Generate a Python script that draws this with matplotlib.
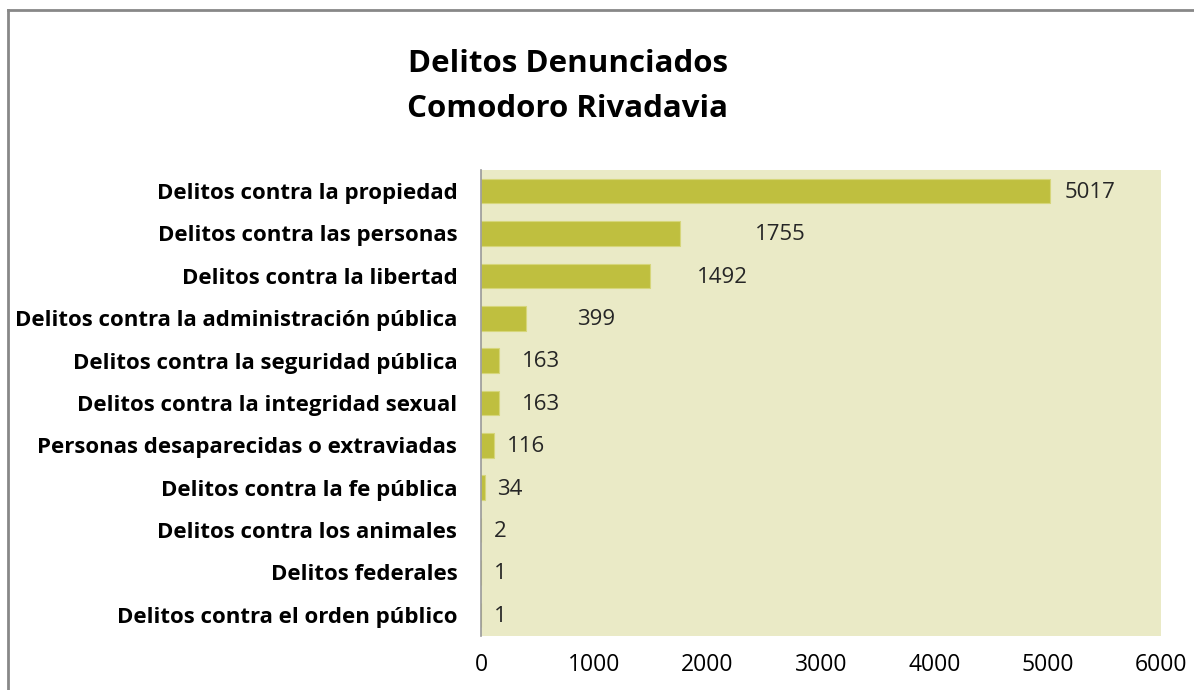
import matplotlib.pyplot as plt
from matplotlib.lines import Line2D

plt.rcParams['font.family'] = ['Open Sans', 'DejaVu Sans']

# categories (top to bottom) and counts
categorias = ['Delitos contra la propiedad',
              'Delitos contra las personas',
              'Delitos contra la libertad',
              'Delitos contra la administración pública',
              'Delitos contra la seguridad pública',
              'Delitos contra la integridad sexual',
              'Personas desaparecidas o extraviadas',
              'Delitos contra la fe pública',
              'Delitos contra los animales',
              'Delitos federales',
              'Delitos contra el orden público']
denuncias = [5017, 1755, 1492, 399, 163, 163, 116, 34, 2, 1, 1]
ticks_x = [0, 1000, 2000, 3000, 4000, 5000, 6000]

# gap (points) between bar end and its value label, as placed in the original
gap_pt = [11, 54, 34, 37, 16, 16, 9, 9, 9, 9, 9]

fig = plt.figure(figsize=(11.94, 6.9), dpi=100)
ax = fig.add_axes([0.4028, 0.0783, 0.5695, 0.6754])
ax.set_facecolor('#EAEAC6')

pos = list(range(len(categorias)))
ax.barh(pos, denuncias, height=0.58, color='#BFBF3F', edgecolor='#D6D67A', linewidth=0.8)

for p, v, g in zip(pos, denuncias, gap_pt):
    ax.annotate(str(v), (v, p), xytext=(g, -1), textcoords='offset points',
                va='center', ha='left', fontsize=16, color='#262626')

ax.set_ylim(len(categorias) - 0.5, -0.5)
ax.set_xlim(0, 6000)
ax.set_yticks(pos)
ax.set_yticklabels(categorias, fontsize=16, fontweight='bold')
ax.set_xticks(ticks_x)
ax.set_xticklabels([str(t) for t in ticks_x], fontsize=16.5)
ax.tick_params(axis='y', length=0, pad=17)
ax.tick_params(axis='x', length=0, pad=12)

for s in ['top', 'right', 'bottom']:
    ax.spines[s].set_visible(False)
ax.spines['left'].set_color('#999999')
ax.spines['left'].set_linewidth(1.2)

fig.text(0.4757, 0.875, 'Delitos Denunciados\nComodoro Rivadavia', ha='center', va='center',
         fontsize=22.5, fontweight='bold', linespacing=1.65)

# outer chart frame (runs off the right and bottom edges)
fig.add_artist(Line2D([8/1194, 8/1194], [0, 1 - 10/690], transform=fig.transFigure,
                      color='#888888', linewidth=2))
fig.add_artist(Line2D([8/1194, 1], [1 - 10/690, 1 - 10/690], transform=fig.transFigure,
                      color='#888888', linewidth=2))

fig.savefig('out.png', dpi=100)
